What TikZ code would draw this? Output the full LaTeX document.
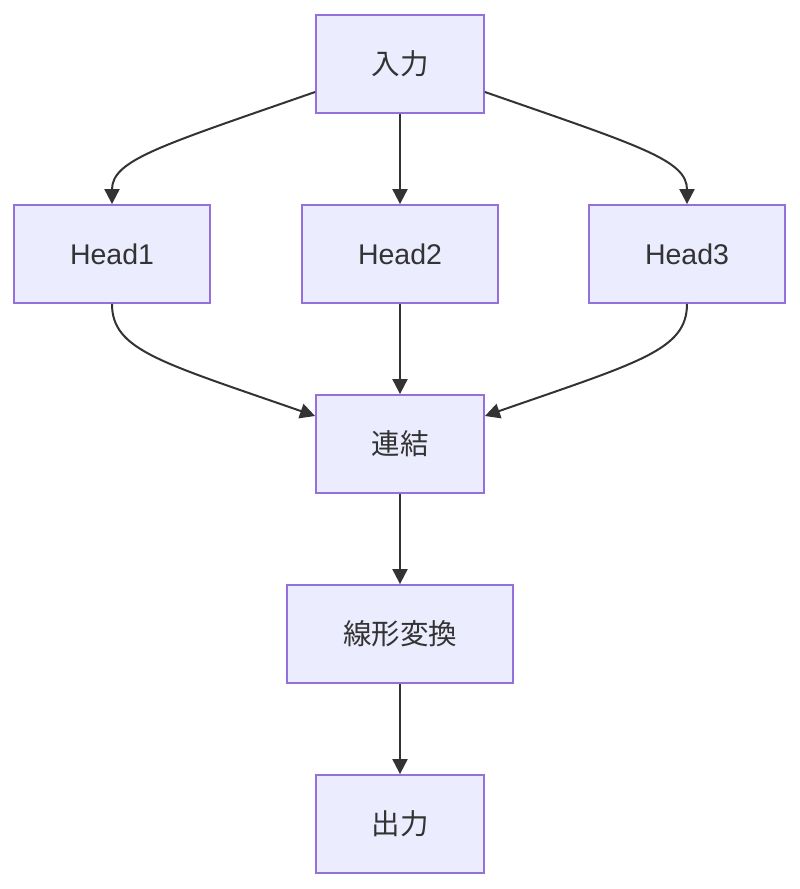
\documentclass[tikz,border=0pt]{standalone}
\usepackage{fontspec}
\setmainfont{Liberation Sans}
\newfontfamily\cjk{Noto Sans CJK JP}
\usetikzlibrary{arrows.meta}
\definecolor{nodefill}{HTML}{ECECFF}
\definecolor{nodeline}{HTML}{9370DB}
\definecolor{txt}{HTML}{333333}
\begin{document}
\begin{tikzpicture}[x=1pt,y=-1pt,
  box/.style={draw=nodeline, fill=nodefill, line width=1.8pt, text=txt,
    font=\fontsize{28.5}{34}\selectfont, inner sep=0pt, anchor=center},
  conn/.style={draw=txt, line width=2pt, -{Triangle[length=15pt,width=15pt]}}]
\useasboundingbox (0,0) rectangle (800,889);
\node[box, minimum width=168pt, minimum height=98pt] (in) at (400,64) {\cjk 入力};
\node[box, minimum width=196pt, minimum height=98pt] (h1) at (112,254) {Head1};
\node[box, minimum width=196pt, minimum height=98pt] (h2) at (400,254) {Head2};
\node[box, minimum width=196pt, minimum height=98pt] (h3) at (687,254) {Head3};
\node[box, minimum width=168pt, minimum height=98pt] (cat) at (400,444) {\cjk 連結};
\node[box, minimum width=226pt, minimum height=98pt] (lin) at (400,634) {\cjk 線形変換};
\node[box, minimum width=168pt, minimum height=98pt] (out) at (400,824) {\cjk 出力};
\coordinate (inL) at ([yshift=-28pt]in.west);
\coordinate (inR) at ([yshift=-28pt]in.east);
\coordinate (catL) at ([yshift=28pt]cat.west);
\coordinate (catR) at ([yshift=28pt]cat.east);
\draw[conn] (inL) .. controls (160,146) and (112,160) .. (h1.north);
\draw[conn] (in.south) -- (h2.north);
\draw[conn] (inR) .. controls (640,146) and (687,160) .. (h3.north);
\draw[conn] (h1.south) .. controls (112,350) and (160,362) .. (catL);
\draw[conn] (h2.south) -- (cat.north);
\draw[conn] (h3.south) .. controls (687,350) and (640,362) .. (catR);
\draw[conn] (cat.south) -- (lin.north);
\draw[conn] (lin.south) -- (out.north);
\end{tikzpicture}
\end{document}
